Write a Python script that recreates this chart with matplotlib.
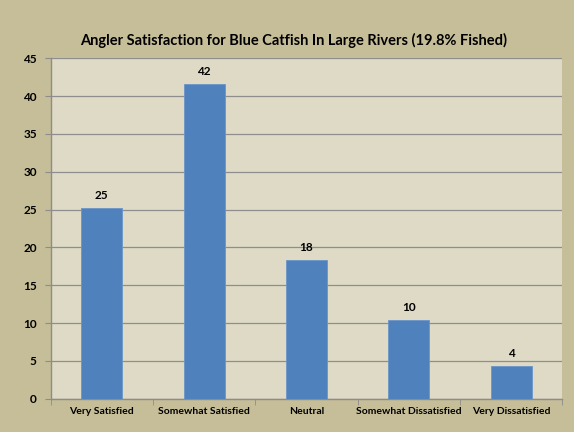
import matplotlib
matplotlib.use("Agg")
import matplotlib.pyplot as plt
import numpy as np

categories = ["Very Satisfied", "Somewhat Satisfied", "Neutral", "Somewhat Dissatisfied", "Very Dissatisfied"]
values = [25.2, 41.6, 18.3, 10.4, 4.3]
labels = ["25", "42", "18", "10", "4"]
yticks = [0, 5, 10, 15, 20, 25, 30, 35, 40, 45]
title = "Angler Satisfaction for Blue Catfish In Large Rivers (19.8% Fished)"

plt.rcParams['font.family'] = ['Lato', 'DejaVu Sans']

fig = plt.figure(figsize=(5.74, 4.32), dpi=100, facecolor="#C6BE98")
ax = fig.add_axes([0.0883, 0.0771, 0.8913, 0.7879])
ax.set_facecolor("#DEDAC5")

x = np.arange(len(categories))
ax.bar(x, values, width=0.4, color="#4F81BD", edgecolor="#6A95C8", linewidth=0.6, zorder=3)
for xi, v, lab in zip(x, values, labels):
    ax.text(xi, v + 0.9, lab, ha="center", va="bottom", fontsize=8.5, fontweight="bold", color="black", zorder=4)

ax.set_xlim(-0.5, len(categories) - 0.5)
ax.set_ylim(0, 45)
ax.set_yticks(yticks)
ax.set_yticklabels([str(t) for t in yticks], fontsize=8.5, fontweight="bold")
ax.yaxis.grid(True, color="#8E8E8E", linewidth=0.9, zorder=1)
ax.set_axisbelow(True)

ax.set_xticks(x)
ax.set_xticklabels(categories, fontsize=7.5, fontweight="bold")
ax.set_xticks(np.arange(-0.5, len(categories)), minor=True)
ax.tick_params(axis="x", which="major", length=0, pad=6)
ax.tick_params(axis="x", which="minor", length=4, color="#8C8C8C")
ax.tick_params(axis="y", length=4, color="#8C8C8C", pad=6)

for s in ["top", "right"]:
    ax.spines[s].set_visible(False)
for s in ["left", "bottom"]:
    ax.spines[s].set_color("#8C8C8C")
    ax.spines[s].set_linewidth(1.0)

fig.text(0.512, 0.907, title, ha="center", va="center", fontsize=10.5, fontweight="bold")

fig.savefig("out.png", dpi=100, facecolor=fig.get_facecolor())
